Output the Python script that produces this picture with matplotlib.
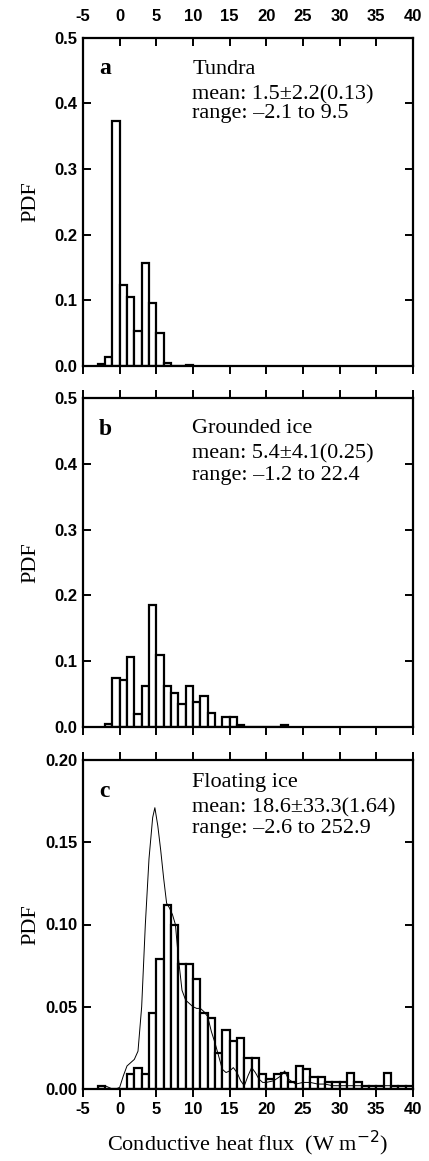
import matplotlib
matplotlib.use("Agg")
import matplotlib.pyplot as plt
import numpy as np

# ---------------- data ----------------
bin_left_a = [-3, -2, -1, 0, 1, 2, 3, 4, 5, 6, 7, 8, 9]
pdf_a = [0.003, 0.013, 0.373, 0.123, 0.105, 0.053, 0.157, 0.096, 0.050, 0.005, 0.0, 0.0, 0.002]

bin_left_b = [-2, -1, 0, 1, 2, 3, 4, 5, 6, 7, 8, 9, 10, 11, 12, 13, 14, 15, 16, 17, 18, 19, 20, 21, 22]
pdf_b = [0.004, 0.075, 0.072, 0.107, 0.020, 0.063, 0.186, 0.110, 0.063, 0.051, 0.035,
         0.063, 0.038, 0.047, 0.022, 0.0, 0.015, 0.015, 0.003, 0.0, 0.0, 0.0, 0.0, 0.0, 0.003]

bin_left_c = list(range(-3, 40))
pdf_c = [0.002, 0.0, 0.0, 0.0, 0.009, 0.013, 0.009, 0.046, 0.079, 0.112, 0.100, 0.076,
         0.076, 0.067, 0.046, 0.043, 0.022, 0.036, 0.029, 0.031, 0.019, 0.019, 0.009,
         0.006, 0.009, 0.010, 0.004, 0.014, 0.012, 0.007, 0.007, 0.004, 0.004, 0.004,
         0.010, 0.004, 0.002, 0.002, 0.002, 0.010, 0.002, 0.002, 0.002]

curve_x = [-3, -2.5, -2, -1.5, -1, -0.5, 0, 0.5, 1, 1.5, 2, 2.5, 3, 3.5, 4, 4.5, 4.8,
           5.2, 5.6, 6, 6.4, 6.8, 7.2, 7.6, 8, 8.5, 9, 9.5, 10, 10.5, 11, 11.5, 12,
           12.5, 13, 13.5, 14, 14.5, 15, 15.5, 16, 16.5, 17, 17.5, 18, 18.5, 19, 19.5,
           20, 21, 22, 22.5, 23, 24, 25, 26, 27, 28, 29, 30, 32, 34, 36, 38, 40]
curve_y = [0.001, 0.002, 0.002, 0.001, 0.0, 0.0, 0.001, 0.008, 0.014, 0.016, 0.018,
           0.023, 0.050, 0.100, 0.140, 0.165, 0.171, 0.160, 0.145, 0.128, 0.113, 0.110,
           0.106, 0.100, 0.080, 0.060, 0.054, 0.052, 0.050, 0.049, 0.049, 0.047, 0.044,
           0.035, 0.028, 0.020, 0.012, 0.010, 0.011, 0.013, 0.010, 0.005, 0.002, 0.008,
           0.013, 0.010, 0.006, 0.004, 0.004, 0.005, 0.008, 0.011, 0.006, 0.003, 0.004,
           0.004, 0.003, 0.003, 0.002, 0.002, 0.002, 0.002, 0.002, 0.002, 0.002]

titles = ["Tundra", "Grounded ice", "Floating ice"]
letters = ["a", "b", "c"]
mean_txt = ["mean: 1.5\u00b12.2(0.13)", "mean: 5.4\u00b14.1(0.25)", "mean: 18.6\u00b133.3(1.64)"]
range_txt = ["range: \u20132.1 to 9.5", "range: \u20131.2 to 22.4", "range: \u20132.6 to 252.9"]
xticks = [-5, 0, 5, 10, 15, 20, 25, 30, 35, 40]
yticks_ab = [0.0, 0.1, 0.2, 0.3, 0.4, 0.5]
yticks_c = [0.00, 0.05, 0.10, 0.15, 0.20]

# ---------------- figure ----------------
W, H = 429, 1161
fig = plt.figure(figsize=(W / 100, H / 100), dpi=100)

def fax(top, bottom):
    left, right = 83, 413
    return fig.add_axes([left / W, 1 - bottom / H, (right - left) / W, (bottom - top) / H])

ax_a = fax(37.5, 366)
ax_b = fax(398, 727)
ax_c = fax(760, 1089)

serif = "Liberation Serif"
sans = "Liberation Sans"
TFS = 12
FS = 16

panels = [(ax_a, bin_left_a, pdf_a, 0.5, yticks_ab, "%.1f"),
          (ax_b, bin_left_b, pdf_b, 0.5, yticks_ab, "%.1f"),
          (ax_c, bin_left_c, pdf_c, 0.20, yticks_c, "%.2f")]

# text baselines in pixels below the axes top: title, mean, range
offs = [(36.5, 61.5, 80.5), (35, 60, 82), (27, 52, 73)]

for i, (ax, bl, pdf, ymax, yt, fmt) in enumerate(panels):
    ax.bar(bl, pdf, width=1.0, align="edge", facecolor="white",
           edgecolor="black", linewidth=1.6, zorder=2)
    ax.set_xlim(-5, 40)
    ax.set_ylim(0, ymax)
    ax.set_xticks(xticks)
    ax.set_yticks(yt)
    ax.set_yticklabels([fmt % v for v in yt], fontfamily=sans, fontweight="bold", fontsize=TFS)
    for sp in ax.spines.values():
        sp.set_linewidth(1.6)
    ax.tick_params(axis="y", which="both", direction="in", length=6, width=1.4, pad=4,
                   left=True, right=True, labelleft=True, labelright=False)
    ax.tick_params(axis="x", which="both", direction="out", length=6, width=1.4,
                   bottom=True, top=True, labelbottom=False, labeltop=False)
    ax.set_ylabel("PDF", fontfamily=serif, fontsize=16)
    ax.yaxis.set_label_coords(-0.13, 0.5)
    ph = 328.5
    ax.text(-2.8, ymax * (1 - 37 / ph), letters[i], fontfamily=serif, fontweight="bold",
            fontsize=17, va="baseline", ha="left")
    t0, t1, t2 = offs[i]
    ax.text(9.9, ymax * (1 - t0 / ph), titles[i], fontfamily=serif, fontsize=FS,
            va="baseline", ha="left")
    ax.text(9.9, ymax * (1 - t1 / ph), mean_txt[i], fontfamily=serif, fontsize=FS,
            va="baseline", ha="left")
    ax.text(9.9, ymax * (1 - t2 / ph), range_txt[i], fontfamily=serif, fontsize=FS,
            va="baseline", ha="left")

# top panel: top ticks inward with labels on top
ax_a.tick_params(axis="x", which="both", top=True, labeltop=True)
for t in ax_a.xaxis.get_major_ticks():
    t.tick2line.set_marker(3)  # tick pointing down (inward) at top
ax_a.set_xticklabels([str(v) for v in xticks], fontfamily=sans, fontweight="bold", fontsize=TFS)

ax_c.plot(curve_x, curve_y, color="black", linewidth=0.7, zorder=3)
ax_c.tick_params(axis="x", labelbottom=True)
ax_c.set_xticklabels([str(v) for v in xticks], fontfamily=sans, fontweight="bold", fontsize=TFS)
ax_c.set_xlabel("Conductive heat flux  (W m$^{-2}$)", fontfamily=serif, fontsize=16,
                labelpad=8)

fig.savefig("out.png", dpi=100)
